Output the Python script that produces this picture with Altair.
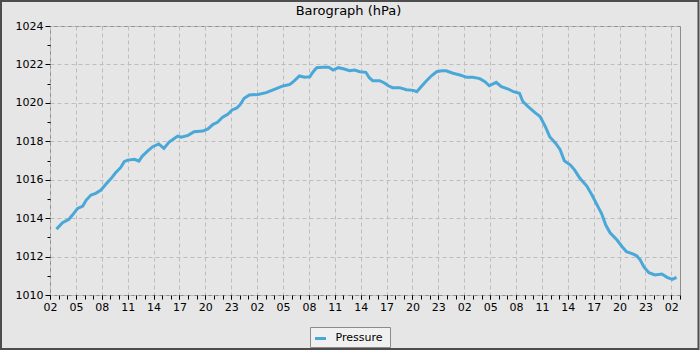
import altair as alt
import pandas as pd

FONT = "DejaVu Sans"
LINE_COLOR = "#4aa8d8"

chart_title = ["Barograph (hPa)"]
start = "2024-01-01 02:00"
hours = [0.75, 1.45, 2.2, 2.6, 3.2, 3.8, 4.2, 4.75, 5.3, 5.9, 6.5, 7.1, 7.6, 8.2, 8.6,
         9.0, 9.8, 10.3, 10.7, 11.3, 11.9, 12.6, 13.2, 13.8, 14.4, 14.8, 15.2, 16.0,
         16.7, 17.7, 18.3, 18.9, 19.4, 20.0, 20.6, 21.1, 21.6, 22.0, 22.5, 23.1, 24.1,
         25.05, 26.0, 27.0, 27.8, 28.3, 28.9, 29.5, 30.1, 30.5, 30.9, 31.6, 32.3, 32.8,
         33.4, 34.1, 34.7, 35.3, 35.9, 36.6, 37.0, 37.4, 38.2, 38.8, 39.2, 39.7, 40.5,
         41.3, 42.1, 42.5, 43.0, 43.6, 44.2, 44.8, 45.4, 45.9, 46.7, 47.5, 48.3, 49.0,
         49.8, 50.4, 50.9, 51.7, 52.3, 53.1, 53.7, 54.4, 54.8, 55.4, 56.2, 56.8, 57.4,
         57.9, 58.6, 59.1, 59.6, 60.3, 60.8, 61.4, 62.2, 62.8, 63.4, 63.9, 64.4, 64.9,
         65.7, 66.3, 66.8, 67.6, 68.0, 68.4, 68.8, 69.4, 70.1, 70.9, 71.5, 72.1, 72.6]
pressure = [1013.43, 1013.76, 1013.94, 1014.16, 1014.51, 1014.63, 1014.94, 1015.20, 1015.29,
            1015.46, 1015.78, 1016.07, 1016.36, 1016.64, 1016.94, 1017.02, 1017.06, 1016.97,
            1017.23, 1017.49, 1017.72, 1017.86, 1017.63, 1017.96, 1018.15, 1018.27, 1018.21,
            1018.31, 1018.50, 1018.53, 1018.64, 1018.88, 1018.99, 1019.25, 1019.40, 1019.63,
            1019.72, 1019.89, 1020.24, 1020.41, 1020.44, 1020.53, 1020.70, 1020.88, 1020.96,
            1021.14, 1021.40, 1021.33, 1021.36, 1021.62, 1021.83, 1021.85, 1021.85, 1021.71,
            1021.83, 1021.76, 1021.67, 1021.71, 1021.62, 1021.59, 1021.31, 1021.15, 1021.15,
            1021.02, 1020.89, 1020.79, 1020.79, 1020.68, 1020.65, 1020.58, 1020.84, 1021.14,
            1021.41, 1021.62, 1021.67, 1021.67, 1021.54, 1021.45, 1021.33, 1021.33, 1021.26,
            1021.10, 1020.89, 1021.07, 1020.84, 1020.72, 1020.58, 1020.50, 1020.06, 1019.80,
            1019.49, 1019.28, 1018.76, 1018.24, 1017.89, 1017.58, 1016.99, 1016.76, 1016.50,
            1016.07, 1015.67, 1015.20, 1014.68, 1014.25, 1013.64, 1013.24, 1012.86, 1012.51,
            1012.25, 1012.13, 1012.03, 1011.82, 1011.47, 1011.16, 1011.04, 1011.09, 1010.92,
            1010.81, 1010.92]
series_name = ["Pressure"]
x_major_hours = list(range(0, 73, 3))
x_minor_hours = list(range(0, 74))
x_end_hour = 73
y_major = list(range(1010, 1025, 2))
y_minor = list(range(1011, 1024, 2))
y_domain = [1010, 1024]

t0 = pd.Timestamp(start)
df = pd.DataFrame({
    "time": t0 + pd.to_timedelta(hours, unit="h"),
    "pressure": pressure,
})
legend_df = pd.DataFrame({"label": series_name})
title_df = pd.DataFrame({"label": chart_title})


def dt(h):
    t = t0 + pd.Timedelta(hours=h)
    return alt.DateTime(year=int(t.year), month=int(t.month), date=int(t.day),
                        hours=int(t.hour), minutes=int(t.minute))


x_scale = alt.Scale(domain=[dt(0), dt(x_end_hour)])
y_scale = alt.Scale(domain=y_domain, nice=False, zero=False)

line = alt.Chart(df).mark_line(color=LINE_COLOR, strokeWidth=3, clip=True).encode(
    x=alt.X("time:T", scale=x_scale, axis=alt.Axis(
        values=[dt(h) for h in x_major_hours], format="%H", title=None, orient="bottom",
        grid=True, gridColor="#bdbdbd", gridDash=[4, 3], domain=False,
        ticks=True, tickColor="#000", tickSize=4,
        labelFont=FONT, labelFontSize=11, labelColor="#000", labelPadding=2,
        labelFlush=False, labelOverlap=False)),
    y=alt.Y("pressure:Q", scale=y_scale, axis=alt.Axis(
        values=y_major, format="d", title=None, orient="left",
        grid=True, gridColor="#bdbdbd", gridDash=[4, 3], domain=False,
        ticks=True, tickColor="#000", tickSize=5,
        labelFont=FONT, labelFontSize=11, labelColor="#000", labelPadding=2,
        labelFlush=False, labelOverlap=False)),
)

minor = alt.Chart(df).mark_line(opacity=0).encode(
    x=alt.X("time:T", scale=x_scale, axis=alt.Axis(
        values=[dt(h) for h in x_minor_hours], labels=False, grid=False, domain=False,
        ticks=True, tickColor="#000", tickSize=4, title=None, orient="bottom")),
    y=alt.Y("pressure:Q", scale=y_scale, axis=alt.Axis(
        values=y_minor, labels=False, grid=False, domain=False,
        ticks=True, tickColor="#000", tickSize=3, title=None, orient="left")),
)

title_txt = alt.Chart(title_df).mark_text(
    font=FONT, fontSize=13, color="#000", align="center", baseline="alphabetic"
).encode(x=alt.value(298.5), y=alt.value(-11), text="label:N")

legend_box = alt.Chart(legend_df).mark_rect(
    fill="#f0f0f0", stroke="#8c8c8c", strokeWidth=1
).encode(x=alt.value(260.5), x2=alt.value(340.5), y=alt.value(301.5), y2=alt.value(321.5))

legend_sym = alt.Chart(legend_df).mark_rule(color=LINE_COLOR, strokeWidth=3).encode(
    x=alt.value(265), x2=alt.value(276), y=alt.value(312.5))

legend_txt = alt.Chart(legend_df).mark_text(
    font=FONT, fontSize=11, color="#000", align="left", baseline="middle"
).encode(x=alt.value(285.5), y=alt.value(312), text="label:N")

border = alt.Chart(legend_df).mark_rect(
    fillOpacity=0, stroke="#4d4d4d", strokeWidth=2
).encode(x=alt.value(-49), x2=alt.value(648.5), y=alt.value(-25), y2=alt.value(323))

chart = alt.layer(line, minor, title_txt, legend_box, legend_sym, legend_txt, border).resolve_axis(
    x="independent", y="independent"
).properties(
    width=630, height=269,
    autosize=alt.AutoSizeParams(type="none"),
    padding={"left": 50, "top": 26, "right": 20, "bottom": 55},
    background="#e6e6e6",
).configure_view(fill="#e6e6e6", stroke="#8c8c8c", strokeWidth=1)

chart.save("out.html", embed_options={"renderer": "svg", "actions": False})
